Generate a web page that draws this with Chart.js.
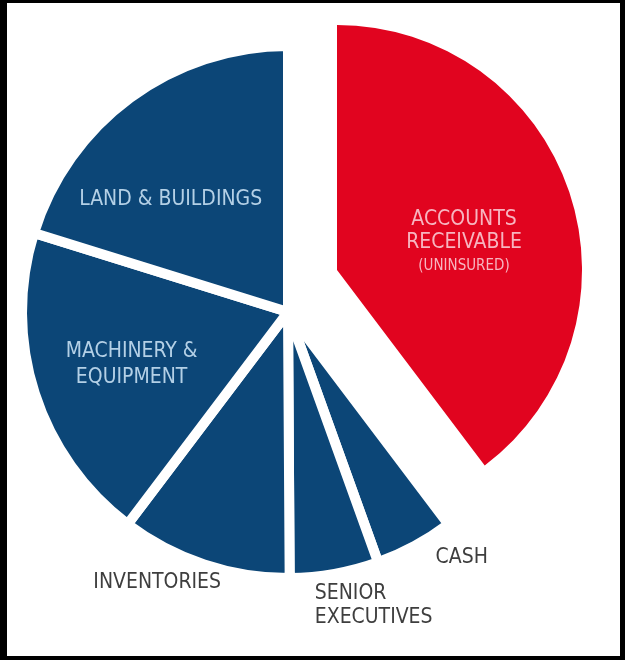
<!DOCTYPE html>
<html>
<head>
<meta charset="utf-8">
<script src="https://cdn.jsdelivr.net/npm/chart.js@4.4.1/dist/chart.umd.min.js"></script>
<style>
    html, body { margin: 0; padding: 0; background: #000; }
    #frame { position: absolute; left: 7px; top: 3px; width: 613px; height: 653px; background: #fff; overflow: hidden; }
    .layer { position: absolute; left: -7px; top: -3px; width: 625px; height: 660px; }
</style>
</head>
<body>
<div id="frame">
    <div class="layer"><canvas id="bluePie" width="625" height="660"></canvas></div>
    <div class="layer"><canvas id="redPie" width="625" height="660"></canvas></div>
</div>
<script>
// slices clockwise from 12 o'clock, share of the whole in %
const categories = ['Accounts Receivable (Uninsured)', 'Cash', 'Senior Executives', 'Inventories', 'Machinery & Equipment', 'Land & Buildings'];
const shares = [39.7, 4.8, 5.4, 10.4, 19.5, 20.2];

// text lines for each slice
const labelLines = [
    ['ACCOUNTS', 'RECEIVABLE', '(UNINSURED)'],
    ['CASH'],
    ['SENIOR', 'EXECUTIVES'],
    ['INVENTORIES'],
    ['MACHINERY &', 'EQUIPMENT'],
    ['LAND & BUILDINGS']
];

const RED = '#e1041f';
const NAVY = '#0c4677';

// where the text sits: angle (deg, clockwise from top) and distance as share of radius
const labelPlace = [
    { a: 78, r: 0.53, color: '#f7b5c0', size: [21, 21, 15], gap: [23, 23], align: 'center' },
    { a: 144.7, r: 1.13, color: '#3e3e3e', size: [21], gap: [], align: 'center' },
    { a: 174.8, r: 1.11, color: '#3e3e3e', size: [21, 21], gap: [24], align: 'left' },
    { a: 205.8, r: 1.13, color: '#3e3e3e', size: [21], gap: [], align: 'center' },
    { a: 251.5, r: 0.62, color: '#b4d0e6', size: [21, 21], gap: [26], align: 'center' },
    { a: 313.7, r: 0.61, color: '#b4d0e6', size: [21], gap: [], align: 'center' }
];

const pieLabels = {
    id: 'pieLabels',
    afterDatasetsDraw(chart, args, opts) {
        const ctx = chart.ctx;
        const arcs = chart.getDatasetMeta(0).data;
        ctx.save();
        arcs.forEach((arc, i) => {
            if (!opts.show.includes(i)) return;
            const p = labelPlace[i];
            const rad = (p.a - 90) * Math.PI / 180;
            const dist = p.r * arc.outerRadius;
            const cx = arc.x + Math.cos(rad) * dist;
            const cy = arc.y + Math.sin(rad) * dist;
            const lines = labelLines[i];
            const total = p.gap.reduce((s, g) => s + g, 0);
            let y = cy - total / 2;
            ctx.fillStyle = p.color;
            ctx.textAlign = p.align;
            ctx.textBaseline = 'middle';
            lines.forEach((t, j) => {
                ctx.font = p.size[j] + 'px "DejaVu Sans Condensed", "Liberation Sans Narrow", sans-serif';
                ctx.fillText(t, cx, y);
                y += p.gap[j] || 0;
            });
        });
        ctx.restore();
    }
};

// navy slices; the red one is drawn on its own, pulled out up and to the right
new Chart(document.getElementById('bluePie').getContext('2d'), {
    type: 'pie',
    data: {
        labels: categories,
        datasets: [{
            data: shares,
            backgroundColor: shares.map((_, i) => i === 0 ? 'rgba(0,0,0,0)' : NAVY),
            borderColor: '#ffffff',
            borderWidth: shares.map((_, i) => i === 0 ? 0 : 10)
        }]
    },
    options: {
        responsive: false,
        animation: false,
        radius: 266,
        layout: { padding: { left: 0, right: 49, top: 0, bottom: 36 } },
        plugins: {
            legend: { display: false },
            tooltip: { enabled: false },
            pieLabels: { show: [1, 2, 3, 4, 5] }
        }
    },
    plugins: [pieLabels]
});

new Chart(document.getElementById('redPie').getContext('2d'), {
    type: 'pie',
    data: {
        labels: categories,
        datasets: [{
            data: shares,
            backgroundColor: shares.map((_, i) => i === 0 ? RED : 'rgba(0,0,0,0)'),
            borderWidth: 0
        }]
    },
    options: {
        responsive: false,
        animation: false,
        radius: 245,
        layout: { padding: { left: 49, right: 0, top: 0, bottom: 120 } },
        plugins: {
            legend: { display: false },
            tooltip: { enabled: false },
            pieLabels: { show: [0] }
        }
    },
    plugins: [pieLabels]
});
</script>
</body>
</html>
